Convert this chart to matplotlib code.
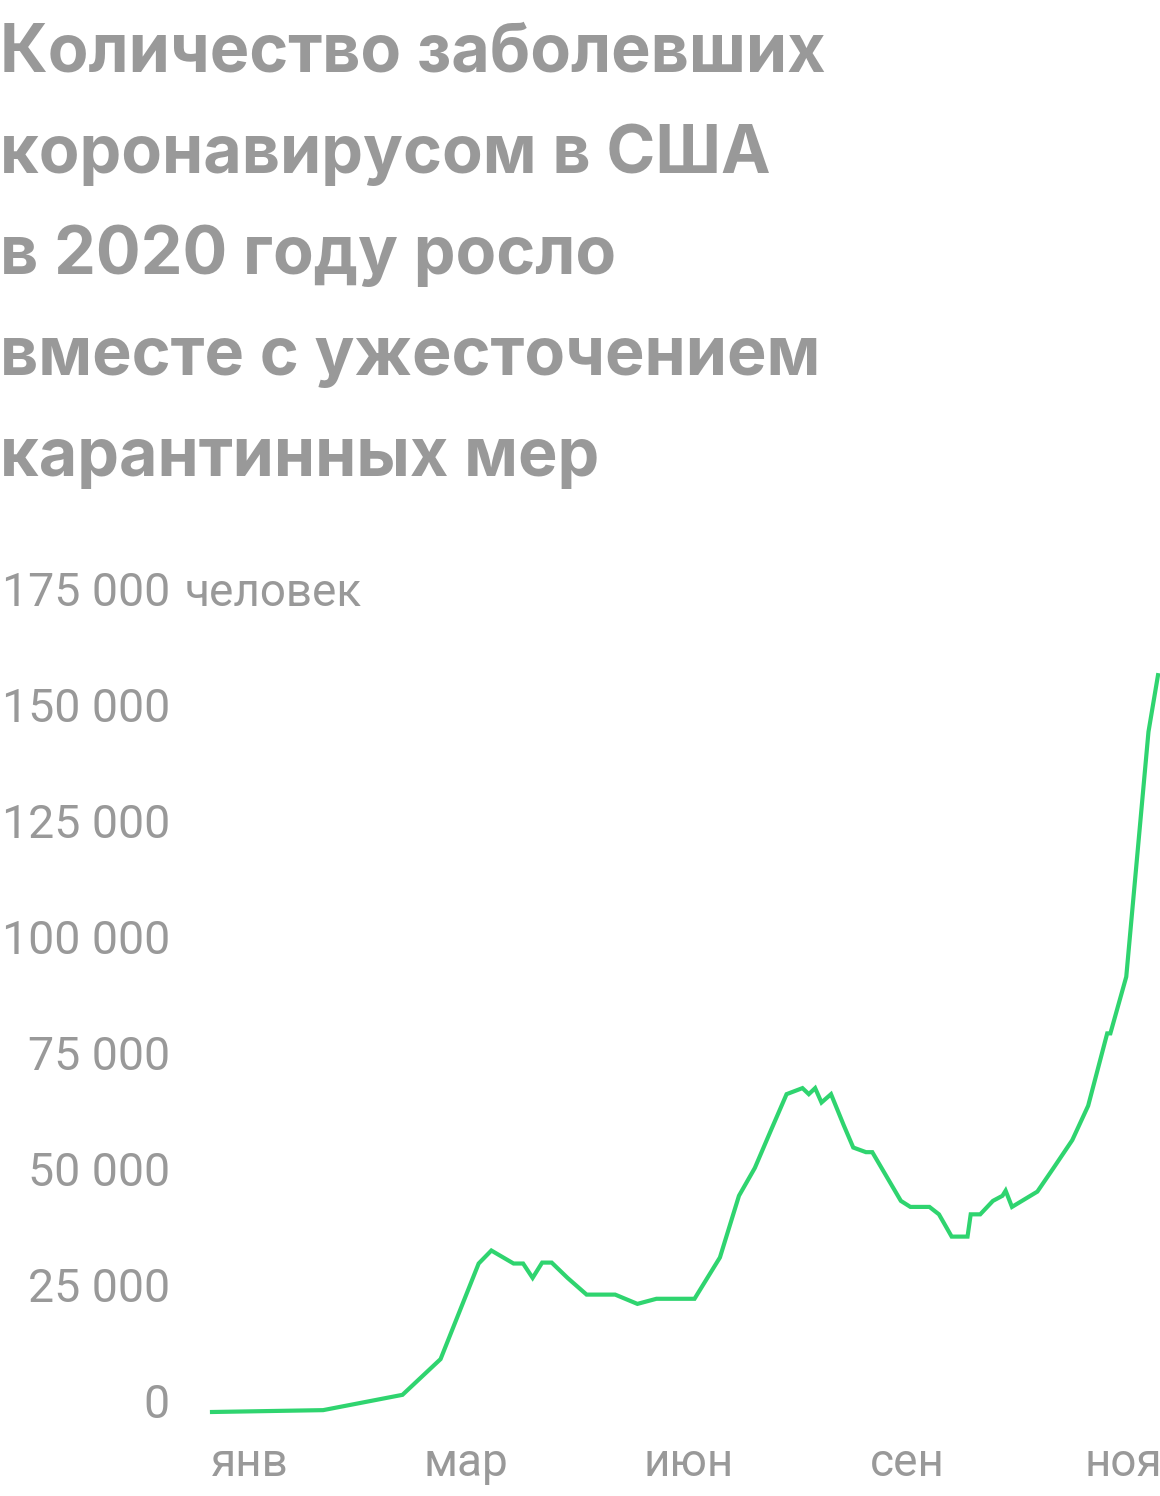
import matplotlib
matplotlib.use("Agg")
import matplotlib.pyplot as plt
from matplotlib.transforms import ScaledTranslation, blended_transform_factory

# ---- data ----
days = [22, 57, 82, 94, 106, 110, 117, 120, 123, 126, 129, 134, 140, 149, 156, 162,
        174, 182, 188, 193, 198, 203, 208, 210, 212, 214, 217, 221, 224, 228, 230,
        239, 242, 248, 251, 255, 260, 261, 264, 268, 271, 272, 274, 282, 287, 293,
        298, 304, 305, 310, 317, 320]
cases = [0, 400, 3700, 11400, 32000, 34800, 32000, 32000, 28900, 32200, 32200, 28900,
         25300, 25300, 23300, 24400, 24400, 33300, 46600, 52600, 60600, 68500, 69800,
         68500, 69800, 66700, 68500, 61800, 57000, 56000, 56000, 45500, 44200, 44200,
         42600, 37800, 37800, 42600, 42600, 45500, 46600, 47700, 44200, 47500, 52500,
         58600, 66000, 81600, 81600, 93800, 146600, 158800]
month_pos = [34, 102, 172, 241, 309]
month_labels = ["янв", "мар", "июн", "сен", "ноя"]
ytick_vals = [0, 25000, 50000, 75000, 100000, 125000, 150000, 175000]
ytick_labels = ["0", "25 000", "50 000", "75 000", "100 000", "125 000", "150 000", "175 000"]
unit_label = "человек"
title_lines = ["Количество заболевших", "коронавирусом в США", "в 2020 году росло",
               "вместе с ужесточением", "карантинных мер"]

W, H = 1160, 1496
fig = plt.figure(figsize=(W / 100, H / 100), dpi=100)
fig.patch.set_facecolor("white")

gray = "#999999"
green = "#2fd46f"

# axes placement (pixels)
left_px, right_px = 212, 1158
zero_px, top_px = 1412, 600
ax = fig.add_axes([left_px / W, (H - zero_px) / H, (right_px - left_px) / W, (zero_px - top_px) / H])
ax.set_xlim(22, 320)
ax.set_ylim(0, 175000)
ax.axis("off")

ax.plot(days, cases, color=green, lw=3.0, clip_on=False, solid_joinstyle="miter")

# y labels
off = ScaledTranslation(0, 0.075, fig.dpi_scale_trans)
ytrans = blended_transform_factory(fig.transFigure, ax.transData) + off
for v, lab in zip(ytick_vals, ytick_labels):
    ax.text(170 / W, v, lab, transform=ytrans, ha="right", va="center",
            fontsize=33.5, color=gray, family="Roboto")
ax.text(185 / W, ytick_vals[-1], unit_label, transform=ytrans, ha="left", va="center",
        fontsize=33, color=gray, family="Roboto")

# month labels
xtrans = blended_transform_factory(ax.transData, fig.transFigure)
for p, lab in zip(month_pos, month_labels):
    ax.text(p, 1 - 1463 / H, lab, transform=xtrans, ha="center", va="center",
            fontsize=33, color=gray, family="Roboto")

# title
baselines = [72, 173, 274, 375, 476]
for line, b in zip(title_lines, baselines):
    fig.text(0 / W, 1 - b / H, line, ha="left", va="baseline", fontsize=47.8,
             fontweight="bold", color=gray, family="Inter")

fig.savefig("out.png", dpi=100, facecolor="white")
